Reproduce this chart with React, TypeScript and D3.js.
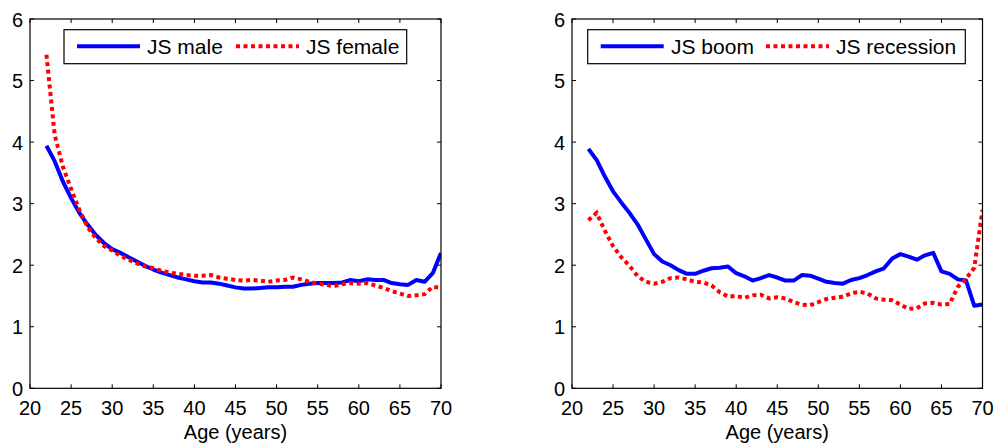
import React from "react";
import * as d3 from "d3";

const ages = [22,23,24,25,26,27,28,29,30,31,32,33,34,35,36,37,38,39,40,41,42,43,44,45,46,47,48,49,50,51,52,53,54,55,56,57,58,59,60,61,62,63,64,65,66,67,68,69,70];

const jsMale = [3.94,3.69,3.36,3.09,2.85,2.66,2.49,2.36,2.26,2.20,2.13,2.06,1.99,1.93,1.88,1.84,1.80,1.77,1.74,1.72,1.72,1.70,1.67,1.64,1.62,1.62,1.63,1.64,1.64,1.65,1.65,1.68,1.70,1.71,1.71,1.71,1.72,1.76,1.74,1.77,1.76,1.76,1.71,1.69,1.68,1.76,1.73,1.87,2.20];
const jsFemale = [5.42,4.12,3.60,3.24,2.90,2.62,2.44,2.31,2.24,2.15,2.09,2.03,1.98,1.95,1.91,1.88,1.86,1.84,1.83,1.83,1.84,1.80,1.78,1.76,1.75,1.76,1.75,1.73,1.75,1.76,1.80,1.77,1.73,1.70,1.68,1.66,1.69,1.71,1.70,1.71,1.67,1.63,1.58,1.54,1.50,1.51,1.53,1.65,1.63];

const jsBoom = [3.89,3.71,3.44,3.20,3.02,2.85,2.66,2.42,2.18,2.06,2.00,1.92,1.86,1.86,1.91,1.95,1.96,1.98,1.87,1.82,1.75,1.79,1.84,1.80,1.75,1.75,1.84,1.83,1.78,1.73,1.71,1.70,1.76,1.79,1.84,1.90,1.95,2.11,2.18,2.14,2.09,2.16,2.20,1.90,1.86,1.77,1.75,1.34,1.36];
const jsRecession = [2.73,2.85,2.56,2.31,2.13,1.99,1.82,1.73,1.70,1.73,1.79,1.80,1.77,1.73,1.72,1.67,1.56,1.49,1.50,1.47,1.51,1.52,1.46,1.48,1.46,1.40,1.36,1.35,1.40,1.45,1.47,1.49,1.54,1.57,1.54,1.46,1.44,1.43,1.36,1.29,1.30,1.38,1.39,1.36,1.37,1.65,1.78,1.96,2.90];

const xTicks = [20,25,30,35,40,45,50,55,60,65,70];
const yTicks = [0,1,2,3,4,5,6];

const FONT = "'Liberation Sans', Arial, Helvetica, sans-serif";

type PanelProps = {
  x0: number; x1: number;
  solid: number[]; dotted: number[];
  solidLabel: string; dottedLabel: string;
  legend: { x0: number; x1: number; s1: number; t1: number; s2: number; t2: number };
  id: string;
};

function Panel({ x0, x1, solid, dotted, solidLabel, dottedLabel, legend, id }: PanelProps) {
  const top = 19, bottom = 388.3;
  const x = d3.scaleLinear().domain([20, 70]).range([x0, x1]);
  const y = d3.scaleLinear().domain([0, 6]).range([bottom, top]);
  const line = d3.line<number>().x((_, i) => x(ages[i])).y((d) => y(d));
  const tl = 4;
  const legTop = 29.7, legBot = 63.7, legMid = 46.3;
  return (
    <g>
      <defs>
        <clipPath id={id}>
          <rect x={x0} y={top} width={x1 - x0} height={bottom - top} />
        </clipPath>
      </defs>
      <g clipPath={`url(#${id})`}>
        <path d={line(solid) || ""} fill="none" stroke="#0000ff" strokeWidth={4} strokeLinejoin="round" />
        <path d={line(dotted) || ""} fill="none" stroke="#ff0000" strokeWidth={4} strokeDasharray="4 3.5" />
      </g>
      <rect x={x0} y={top} width={x1 - x0} height={bottom - top} fill="none" stroke="#000" strokeWidth={1.2} />
      {xTicks.map((t) => (
        <g key={"x" + t}>
          <line x1={x(t)} x2={x(t)} y1={bottom} y2={bottom - tl} stroke="#000" strokeWidth={1} />
          <line x1={x(t)} x2={x(t)} y1={top} y2={top + tl} stroke="#000" strokeWidth={1} />
          <text x={x(t)} y={415} textAnchor="middle" fontSize={20} fontFamily={FONT} fill="#000">{t}</text>
        </g>
      ))}
      {yTicks.map((t) => (
        <g key={"y" + t}>
          <line x1={x0} x2={x0 + tl} y1={y(t)} y2={y(t)} stroke="#000" strokeWidth={1} />
          <line x1={x1} x2={x1 - tl} y1={y(t)} y2={y(t)} stroke="#000" strokeWidth={1} />
          <text x={x0 - 7} y={y(t) + 7.5} textAnchor="end" fontSize={20} fontFamily={FONT} fill="#000">{t}</text>
        </g>
      ))}
      <text x={(x0 + x1) / 2} y={438.5} textAnchor="middle" fontSize={20} fontFamily={FONT} fill="#000">Age (years)</text>
      <rect x={legend.x0} y={legTop} width={legend.x1 - legend.x0} height={legBot - legTop} fill="#fff" stroke="#000" strokeWidth={1.2} />
      <line x1={legend.s1} x2={legend.s1 + 63} y1={legMid} y2={legMid} stroke="#0000ff" strokeWidth={4} />
      <text x={legend.t1} y={54.3} fontSize={21} fontFamily={FONT} fill="#000">{solidLabel}</text>
      <line x1={legend.s2} x2={legend.s2 + 63} y1={legMid} y2={legMid} stroke="#ff0000" strokeWidth={4} strokeDasharray="4 3.5" />
      <text x={legend.t2} y={54.3} fontSize={21} fontFamily={FONT} fill="#000">{dottedLabel}</text>
    </g>
  );
}

export default function App() {
  return (
    <svg width={995} height={445} style={{ position: "absolute", left: 0, top: 0, background: "#fff" }}>
      <rect x={0} y={0} width={995} height={445} fill="#fff" />
      <Panel id="clipL" x0={30} x1={441} solid={jsMale} dotted={jsFemale} solidLabel="JS male" dottedLabel="JS female"
        legend={{ x0: 64, x1: 406.7, s1: 77, t1: 147, s2: 236, t2: 306 }} />
      <Panel id="clipR" x0={572} x1={982.5} solid={jsBoom} dotted={jsRecession} solidLabel="JS boom" dottedLabel="JS recession"
        legend={{ x0: 587.7, x1: 965.3, s1: 600.7, t1: 671, s2: 766, t2: 836 }} />
    </svg>
  );
}
